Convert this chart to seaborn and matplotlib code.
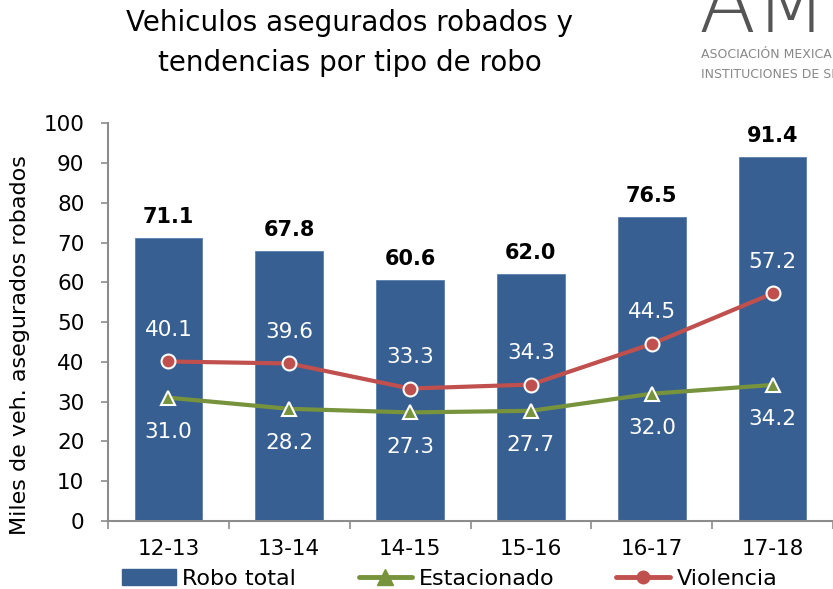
import matplotlib
matplotlib.use("Agg")
import matplotlib.pyplot as plt
from matplotlib.patches import Patch
from matplotlib.lines import Line2D
import seaborn as sns
import numpy as np

# datos (miles de vehiculos asegurados robados)
periodos = ['12-13', '13-14', '14-15', '15-16', '16-17', '17-18']
robo_total = [71.1, 67.8, 60.6, 62.0, 76.5, 91.4]
violencia = [40.1, 39.6, 33.3, 34.3, 44.5, 57.2]
estacionado = [31.0, 28.2, 27.3, 27.7, 32.0, 34.2]

azul = '#375F92'
rojo = '#C0504D'
verde = '#77933C'
gris = '#8C8C8C'

sns.set_style('white')
plt.rcParams['font.family'] = ['DejaVu Sans']
plt.rcParams['text.color'] = 'black'
plt.rcParams['axes.labelcolor'] = 'black'
plt.rcParams['xtick.color'] = 'black'
plt.rcParams['ytick.color'] = 'black'

fig = plt.figure(figsize=(8.33, 5.89), dpi=100)
ax = fig.add_axes([0.1297, 0.1154, 0.8703, 0.6755])

sns.barplot(x=periodos, y=robo_total, color=azul, width=0.56, saturation=1,
            edgecolor='#5A7FB0', linewidth=0.6, ax=ax)
sns.pointplot(x=periodos, y=estacionado, color=verde, marker='^', markersize=10,
              markeredgecolor='white', markeredgewidth=1.5, linewidth=3,
              errorbar=None, ax=ax)
sns.pointplot(x=periodos, y=violencia, color=rojo, marker='o', markersize=10,
              markeredgecolor='white', markeredgewidth=1.5, linewidth=3,
              errorbar=None, ax=ax)

# etiquetas
for i, v in enumerate(robo_total):
    ax.text(i, v + 2.8, f'{v:.1f}', ha='center', va='bottom', fontsize=15,
            fontweight='bold', color='black')
for i, v in enumerate(violencia):
    ax.text(i, v + 8.0, f'{v:.1f}', ha='center', va='center', fontsize=15.5, color='white')
for i, v in enumerate(estacionado):
    ax.text(i, v - 8.6, f'{v:.1f}', ha='center', va='center', fontsize=15.5, color='white')

ax.set_ylim(0, 100)
ax.set_yticks(range(0, 101, 10))
ax.set_xlim(-0.5, 5.39)
ax.set_xticks(range(6))
ax.set_xticklabels(periodos)
ax.set_xticks(np.arange(-0.5, 6, 1), minor=True)
ax.tick_params(axis='x', which='major', length=0, labelsize=15.5, pad=13)
ax.tick_params(axis='x', which='minor', length=6, color=gris, width=1.2, direction='out', bottom=True)
ax.tick_params(axis='y', length=5, color=gris, width=1.2, direction='out', left=True, labelsize=15.5, pad=12)
ax.set_ylabel('Miles de veh. asegurados robados', fontsize=16)
ax.yaxis.set_label_coords(-0.108, 0.442)
ax.set_xlabel('')

for s in ['top', 'right']:
    ax.spines[s].set_visible(False)
for s in ['left', 'bottom']:
    ax.spines[s].set_color(gris)
    ax.spines[s].set_linewidth(1.5)

handles = [
    Patch(facecolor=azul, edgecolor=azul),
    Line2D([0], [0], color=verde, lw=3.5, marker='^', markersize=11,
           markerfacecolor=verde, markeredgecolor=verde),
    Line2D([0], [0], color=rojo, lw=3.5, marker='o', markersize=9,
           markerfacecolor=rojo, markeredgecolor=rojo),
]
fig.legend(handles, ['Robo total', 'Estacionado', 'Violencia'], loc='lower center',
           bbox_to_anchor=(0.54, -0.034), ncol=3, frameon=False, fontsize=16,
           handlelength=2.4, handletextpad=0.3, columnspacing=2.8)

fig.text(0.42, 0.985, 'Vehiculos asegurados robados y\ntendencias por tipo de robo',
         ha='center', va='top', fontsize=20, linespacing=1.55)

# logo
fig.text(0.838, 0.945, 'AMI', ha='left', va='baseline', fontsize=60, color='#555555',
         fontweight='light')
fig.text(0.842, 0.908, 'ASOCIACIÓN MEXICANA DE', ha='left', va='center', fontsize=9, color='#888888')
fig.text(0.842, 0.874, 'INSTITUCIONES DE SEGUROS', ha='left', va='center', fontsize=9, color='#888888')

fig.savefig('out.png', dpi=100)
